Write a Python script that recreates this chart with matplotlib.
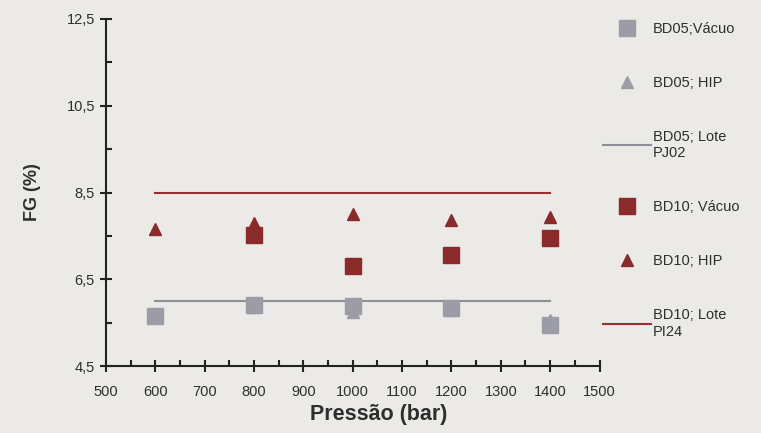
import numpy as np
import matplotlib.pyplot as plt
from matplotlib.ticker import MultipleLocator

plt.rcParams['font.family'] = ['Liberation Sans', 'DejaVu Sans']

pressao = [600, 800, 1000, 1200, 1400]
bd05_vacuo = [5.65, 5.90, 5.89, 5.83, 5.45]
bd05_hip = [5.65, 5.85, 5.75, 5.80, 5.55]
bd10_vacuo_x = [800, 1000, 1200, 1400]
bd10_vacuo = [7.52, 6.80, 7.05, 7.44]
bd10_hip = [7.66, 7.80, 8.00, 7.86, 7.93]
lote_pj02 = 6.01
lote_pi24 = 8.5
line_x = [600, 1400]

red = '#8a2a2a'
grey = '#9c9ca6'
txt = '#2e2e2e'
bg = '#ebeae7'

fig = plt.figure(figsize=(7.61, 4.33), dpi=100, facecolor=bg)
ax = fig.add_axes([106/761, 1 - 366/433, (599.5 - 106)/761, (366 - 19)/433])
ax.set_facecolor(bg)

ax.plot(pressao, bd05_vacuo, 's', color=grey, ms=12, label='BD05;Vácuo', zorder=3)
ax.plot(pressao, bd05_hip, '^', color=grey, ms=8, label='BD05; HIP', zorder=3)
ax.plot(line_x, [lote_pj02] * 2, '-', color='#8e8e98', lw=1.5, label='BD05; Lote\nPJ02', zorder=2)
ax.plot(bd10_vacuo_x, bd10_vacuo, 's', color=red, ms=12, label='BD10; Vácuo', zorder=4)
ax.plot(pressao, bd10_hip, '^', color=red, ms=8, label='BD10; HIP', zorder=4)
ax.plot(line_x, [lote_pi24] * 2, '-', color='#9a2e2e', lw=1.5, label='BD10; Lote\nPI24', zorder=2)

ax.set_xlim(500, 1500)
ax.set_ylim(4.5, 12.5)
ax.xaxis.set_major_locator(MultipleLocator(100))
ax.xaxis.set_minor_locator(MultipleLocator(50))
ax.set_yticks([4.5, 6.5, 8.5, 10.5, 12.5])
ax.set_yticklabels(['4,5', '6,5', '8,5', '10,5', '12,5'])
ax.set_yticks([5.5, 7.5, 9.5, 11.5], minor=True)

for s in ['top', 'right']:
    ax.spines[s].set_visible(False)
for s in ['left', 'bottom']:
    ax.spines[s].set_color('#222222')
    ax.spines[s].set_linewidth(1.5)

ax.tick_params(which='major', direction='inout', length=9, width=1.5, color='#222222',
               labelsize=10.5, labelcolor=txt)
ax.tick_params(axis='x', which='major', pad=9)
ax.tick_params(which='minor', direction='in', length=4, width=1.5, color='#222222')

ax.set_xlabel('Pressão (bar)', fontsize=15.5, fontweight='bold', color=txt)
ax.xaxis.set_label_coords(0.553, -0.141)
ax.xaxis.label.set_va('center')
ax.set_ylabel('FG (%)', fontsize=13, fontweight='bold', color=txt, labelpad=18)

leg = ax.legend(loc='upper left', bbox_to_anchor=(0.98, 1.03), frameon=False,
                fontsize=10.5, labelspacing=2.75, handlelength=3.3, handletextpad=0.15,
                labelcolor=txt)

fig.savefig('out.png', dpi=100, facecolor=bg)
